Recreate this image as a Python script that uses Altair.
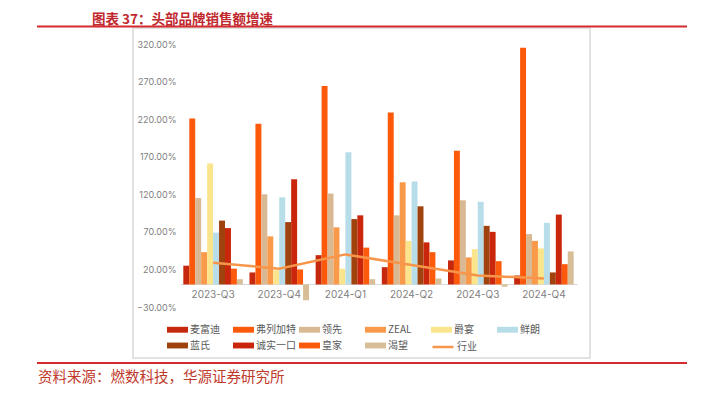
import altair as alt
import pandas as pd

# ---------------- data ----------------
quarters = ["2023-Q3", "2023-Q4", "2024-Q1", "2024-Q2", "2024-Q3", "2024-Q4"]
brands = ["麦富迪", "弗列加特", "领先", "ZEAL", "爵宴", "鲜朗", "蓝氏", "诚实一口", "皇家", "渴望"]

maifudi = [25, 16, 39, 23, 32, 12]
fuliejiate = [221, 214, 264, 229, 178, 315]
lingxian = [115, 120, 121, 92, 112, 67]
zeal = [43, 64, 76, 136, 36, 58]
jueyan = [161, 19, 21, 58, 47, 48]
xianlang = [69, 116, 176, 137, 110, 82]
lanshi = [85, 83, 87, 104, 78, 16]
chengshi = [75, 140, 92, 56, 70, 93]
huangjia = [21, 20, 49, 43, 31, 27]
kewang = [7, -21, 7, 8, -3, 44]
industry = [29, 21, 40, 26, 12, 8]

series_values = [maifudi, fuliejiate, lingxian, zeal, jueyan, xianlang,
                 lanshi, chengshi, huangjia, kewang]
y_ticks = [-30, 20, 70, 120, 170, 220, 270, 320]

bar_colors = ["#C5280C", "#FC5A0A", "#D9B994", "#F9994A", "#FAE58C", "#B7DDE8",
              "#A0420E", "#C9260B", "#FD5B0B", "#D7BE97"]
line_color = "#F7964A"

rows = []
for b, vals in zip(brands, series_values):
    for q, v in zip(quarters, vals):
        rows.append({"quarter": q, "series": b, "value": v})
df_bars = pd.DataFrame(rows)
df_line = pd.DataFrame({"quarter": quarters, "series": ["行业"] * len(quarters), "value": industry})

# ---------------- layout ----------------
W, H = 690, 382
x_scale = alt.Scale(domain=quarters, range=[172, 569], paddingInner=0.1, paddingOuter=0.05)
y_scale = alt.Scale(domain=[-30, 320], range=[299, 36], nice=False, zero=False)

x_axis = alt.Axis(orient="bottom", offset=-106, domainColor="#D9D9D9", domainWidth=1,
                  ticks=False, grid=False, labelPadding=5, labelFontSize=10,
                  labelColor="#7F7F7F", labelAngle=0, title=None, labelFont="Inter")
y_axis = alt.Axis(orient="left", values=y_ticks, offset=-172, domain=False, ticks=False,
                  grid=False, labelPadding=4, labelFontSize=9, labelColor="#808080",
                  labelFont="Inter", title=None,
                  labelExpr="format(datum.value, '.2f') + '%'")

bar_legend = alt.Legend(
    orient="none", legendX=159, legendY=311, direction="horizontal", columns=6,
    title=None, symbolType="M-1,-0.28H1V0.28H-1Z", symbolSize=441,
    symbolStrokeWidth=0, labelFontSize=10, labelFont="Noto Sans CJK SC",
    labelColor="#595959", labelOffset=2, columnPadding=3, rowPadding=-5,
    gridAlign="all",
)
line_legend = alt.Legend(
    orient="none", legendX=423, legendY=327, direction="horizontal",
    title=None, symbolType="stroke", symbolSize=441, symbolStrokeWidth=2.5,
    labelFontSize=10, labelFont="Noto Sans CJK SC", labelColor="#595959",
    labelOffset=2,
)

bars = alt.Chart(df_bars).mark_bar().encode(
    x=alt.X("quarter:N", scale=x_scale, axis=x_axis, sort=quarters),
    xOffset=alt.XOffset("series:N", scale=alt.Scale(domain=brands, paddingInner=0, paddingOuter=0)),
    y=alt.Y("value:Q", scale=y_scale, axis=y_axis),
    color=alt.Color("series:N", scale=alt.Scale(domain=brands, range=bar_colors), legend=bar_legend),
)

line = alt.Chart(df_line).mark_line(strokeWidth=2.5).encode(
    x=alt.X("quarter:N", scale=x_scale, axis=x_axis, sort=quarters),
    y=alt.Y("value:Q", scale=y_scale, axis=y_axis),
    color=alt.Color("series:N", scale=alt.Scale(domain=["行业"], range=[line_color]), legend=line_legend),
)

base = alt.Chart(pd.DataFrame({"a": [0]}))
box = base.mark_rect(filled=False, stroke="#D9D9D9", strokeWidth=1.5).encode(
    x=alt.value(125), x2=alt.value(582), y=alt.value(20), y2=alt.value(350))
top_rule = base.mark_rule(color="#D42A2E", strokeWidth=2).encode(
    x=alt.value(29), x2=alt.value(679), y=alt.value(18.5))
bot_rule = base.mark_rule(color="#D42A2E", strokeWidth=2).encode(
    x=alt.value(29), x2=alt.value(679), y=alt.value(355))
title = base.mark_text(align="left", baseline="alphabetic", fontSize=13.5, fontWeight="bold",
                       color="#C0282E", font="Noto Sans CJK SC").encode(
    x=alt.value(84), y=alt.value(15.8), text=alt.value("图表 37：头部品牌销售额增速"))
source = base.mark_text(align="left", baseline="middle", fontSize=14.5,
                        color="#C0392B", font="Noto Sans CJK SC").encode(
    x=alt.value(30), y=alt.value(370), text=alt.value("资料来源：燃数科技，华源证券研究所"))

chart = alt.layer(box, bars, line, top_rule, bot_rule, title, source).resolve_scale(
    color="independent"
).properties(
    width=W, height=H, padding=0, autosize=alt.AutoSizeParams(type="none")
).configure_view(stroke=None)

chart.save("out.html", embed_options={"renderer": "svg", "actions": False})
